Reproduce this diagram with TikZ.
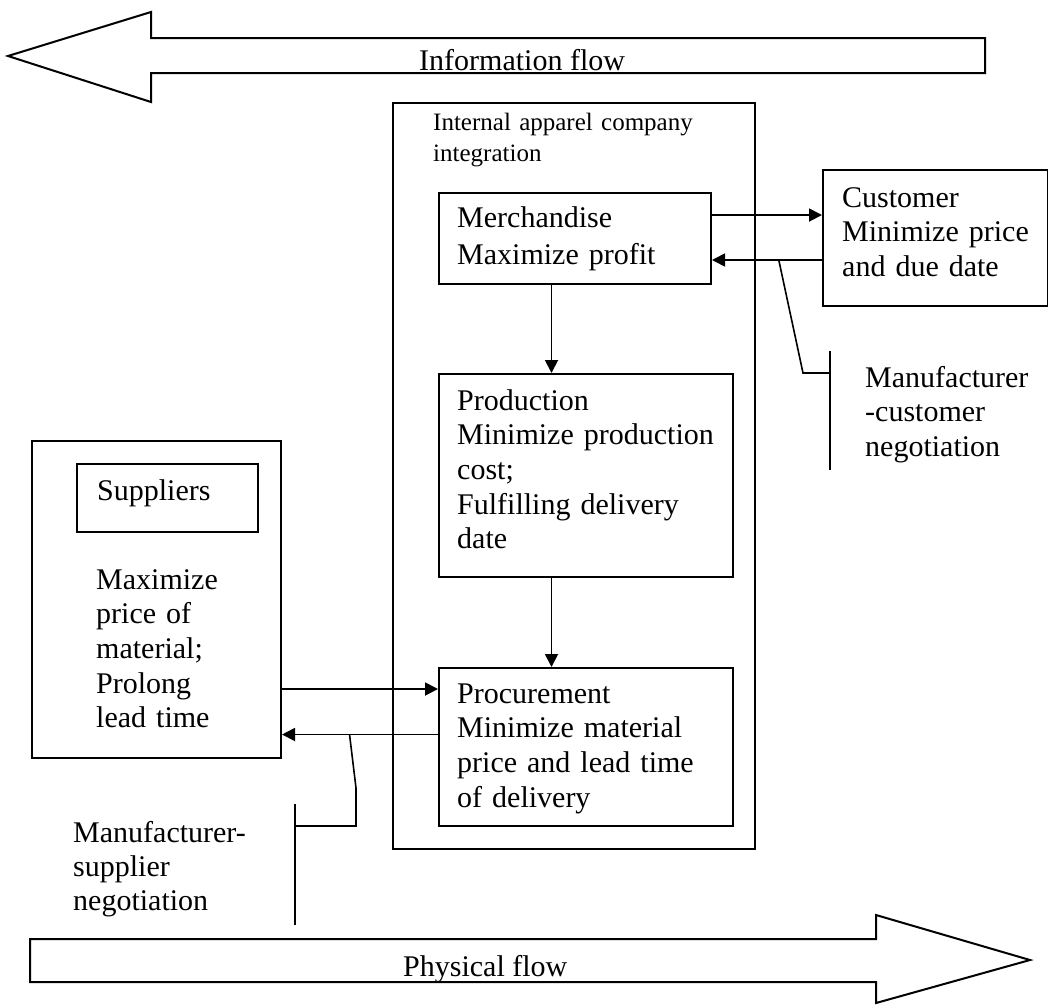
\documentclass[tikz,border=0pt]{standalone}
\usepackage{fontspec}
\setmainfont{Liberation Serif}
\usetikzlibrary{arrows.meta}
\begin{document}
\begin{tikzpicture}[x=1pt,y=-1pt,
  frame/.style={draw, line width=2pt, inner sep=0pt, anchor=north west},
  body/.style={anchor=base west, inner sep=0pt, align=left, text width=300pt,
    font=\fontsize{30}{34.7}\selectfont},
  conn/.style={line width=1.8pt, -{Triangle[length=13pt,width=13pt]}},
  nego/.style={line width=1.6pt},
  flow/.style={draw, line width=2pt, line join=miter},
  flowtext/.style={anchor=base west, inner sep=0pt, font=\fontsize{30}{34}\selectfont}]

  % canvas
  \fill[white] (0,0) rectangle (1048,1005);
  \useasboundingbox (0,0) rectangle (1048,1005);

  % big flow arrows
  \draw[flow] (985,38) -- (151,38) -- (151,12) -- (8,56) -- (151,102)
              -- (151,73) -- (985,73) -- cycle;
  \node[flowtext] (info) at (419,70) {Information flow};

  \draw[flow] (30,939) -- (876,939) -- (876,915) -- (1030,960) -- (876,1003)
              -- (876,982) -- (30,982) -- cycle;
  \node[flowtext] (phys) at (403,976) {Physical flow};

  % company frame
  \node[frame, minimum width=362pt, minimum height=746pt] (comp) at (392,102) {};
  \node[anchor=base west, inner sep=0pt, align=left, text width=300pt,
        font=\fontsize{25}{31}\selectfont] (comptext) at (433,130)
        {Internal apparel company\\integration};

  % departments
  \node[frame, minimum width=272pt, minimum height=91pt] (merch) at (438,192) {};
  \node[body, font=\fontsize{30}{37}\selectfont] (merchtext) at (457,227)
        {Merchandise\\Maximize profit};

  \node[frame, minimum width=294pt, minimum height=203pt] (prod) at (438,373) {};
  \node[body] (prodtext) at (457,410)
        {Production\\Minimize production\\cost;\\Fulfilling delivery\\date};

  \node[frame, minimum width=294pt, minimum height=158pt] (proc) at (438,667) {};
  \node[body] (proctext) at (457,703)
        {Procurement\\Minimize material\\price and lead time\\of delivery};

  % customer
  \node[frame, minimum width=225pt, minimum height=136pt] (cust) at (822,169) {};
  \node[body] (custtext) at (842,207)
        {Customer\\Minimize price\\and due date};

  % suppliers
  \node[frame, minimum width=249pt, minimum height=317pt] (sup) at (31,440) {};
  \node[frame, minimum width=181pt, minimum height=68pt] (suptitle) at (76,463) {};
  \node[body] (suptitletext) at (97,500) {Suppliers};
  \node[body] (suptext) at (96,589)
        {Maximize\\price of\\material;\\Prolong\\lead time};

  % helper coordinates for connector rows and columns
  \coordinate (colA) at (551.5,0);
  \coordinate (rowC1) at (0,215);
  \coordinate (rowC2) at (0,260);
  \coordinate (rowS1) at (0,689);
  \coordinate (rowS2) at (0,734.5);

  % connectors
  \draw[conn] (merch.east |- rowC1) -- (cust.west |- rowC1);
  \draw[conn] (cust.west |- rowC2) -- coordinate[pos=0.393] (nc) (merch.east |- rowC2);
  \draw[conn] (merch.south -| colA) -- (prod.north -| colA);
  \draw[conn] (prod.south -| colA) -- (proc.north -| colA);
  \draw[conn] (sup.east |- rowS1) -- (proc.west |- rowS1);
  \draw[conn] (proc.west |- rowS2) -- coordinate[pos=0.567] (ns) (sup.east |- rowS2);

  % negotiation brackets
  \coordinate (barCtop) at (830,351);
  \coordinate (barCbot) at (830,470);
  \draw[nego] (barCtop) -- (barCbot);
  \draw[nego] (nc) -- (803,373) -- (barCtop |- 0,373);
  \node[body] (negc) at (865,387) {Manufacturer\\-customer\\negotiation};

  \coordinate (barStop) at (295,804);
  \coordinate (barSbot) at (295,925);
  \draw[nego] (barStop) -- (barSbot);
  \draw[nego] (ns) -- (356,788) -- (356,826) -- (barStop |- 0,826);
  \node[body, font=\fontsize{30}{34}\selectfont] (negs) at (73,842)
        {Manufacturer-\\supplier\\negotiation};
\end{tikzpicture}
\end{document}
